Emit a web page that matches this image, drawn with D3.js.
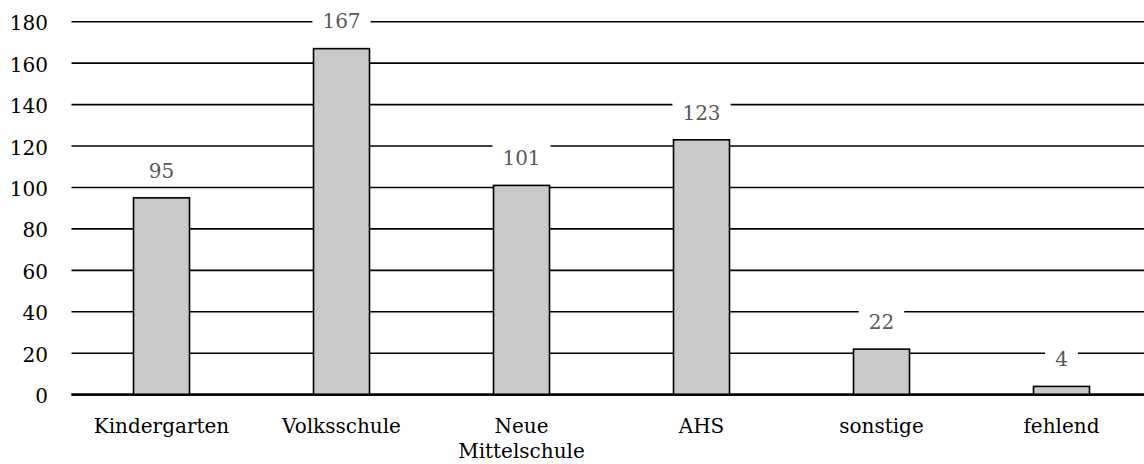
<!DOCTYPE html>
<html>
<head>
<meta charset="utf-8">
<script src="https://cdn.jsdelivr.net/npm/d3@7"></script>
<style>
  html, body { margin: 0; padding: 0; background: #fff; }
  svg text { font-family: "DejaVu Serif", serif; }
</style>
</head>
<body>
<svg id="chart" width="1144" height="464"></svg>
<script>
// Schulform und Anzahl
const categories = [["Kindergarten"], ["Volksschule"], ["Neue", "Mittelschule"], ["AHS"], ["sonstige"], ["fehlend"]];
const values = [95, 167, 101, 123, 22, 4];
const yTicks = [0, 20, 40, 60, 80, 100, 120, 140, 160, 180];

const svg = d3.select("#chart");
const W = 1144;
const FS = 20;
const plotLeft = 71.5, plotRight = 1151.5, plotTop = 21.7, plotBottom = 394.7;

const keys = categories.map(c => c.join(" "));
const x = d3.scaleBand().domain(keys).range([plotLeft, plotRight])
  .paddingInner(0.689).paddingOuter(0.3445);
const y = d3.scaleLinear().domain([0, 180]).range([plotBottom, plotTop]);

// horizontal gridlines
svg.append("g").selectAll("line").data(yTicks).join("line")
  .attr("x1", plotLeft).attr("x2", W)
  .attr("y1", d => y(d)).attr("y2", d => y(d))
  .attr("stroke", "#000")
  .attr("stroke-width", d => d === 0 ? 2.2 : 1.6);

// y-axis tick labels
const yAxis = d3.axisLeft(y).tickValues(yTicks).tickSize(0).tickPadding(0);
const gy = svg.append("g").attr("transform", "translate(48,0)").call(yAxis);
gy.select(".domain").remove();
gy.selectAll("text")
  .attr("font-family", "DejaVu Serif")
  .attr("font-size", FS)
  .attr("fill", "#000")
  .attr("dy", "0.4em");

// bars
svg.append("g").selectAll("rect").data(values).join("rect")
  .attr("x", (d, i) => x(keys[i]))
  .attr("width", x.bandwidth())
  .attr("y", d => y(d))
  .attr("height", d => y(0) - y(d))
  .attr("fill", "#c9c9c9")
  .attr("stroke", "#000")
  .attr("stroke-width", 1.6);

// redraw baseline over bars
svg.append("line")
  .attr("x1", plotLeft).attr("x2", W)
  .attr("y1", y(0)).attr("y2", y(0))
  .attr("stroke", "#000").attr("stroke-width", 2.2);

// value labels on white backgrounds
const lab = svg.append("g").selectAll("g").data(values).join("g")
  .attr("transform", (d, i) => `translate(${x(keys[i]) + x.bandwidth() / 2},${y(d) - 27.5})`);
lab.append("text")
  .attr("text-anchor", "middle")
  .attr("dy", "0.36em")
  .attr("font-size", FS)
  .attr("fill", "#595959")
  .text(d => d);
lab.each(function() {
  const g = d3.select(this);
  const bb = g.select("text").node().getBBox();
  g.insert("rect", "text")
    .attr("x", bb.x - 10).attr("width", bb.width + 20)
    .attr("y", bb.y - 2).attr("height", bb.height + 4)
    .attr("fill", "#fff");
});

// category labels
const cat = svg.append("g").selectAll("text").data(categories).join("text")
  .attr("x", (d, i) => x(keys[i]) + x.bandwidth() / 2)
  .attr("y", 433)
  .attr("text-anchor", "middle")
  .attr("font-size", FS)
  .attr("fill", "#000");
cat.selectAll("tspan").data(d => d).join("tspan")
  .attr("x", function() { return d3.select(this.parentNode).attr("x"); })
  .attr("dy", (d, i) => i === 0 ? 0 : 25)
  .text(d => d);
</script>
</body>
</html>
